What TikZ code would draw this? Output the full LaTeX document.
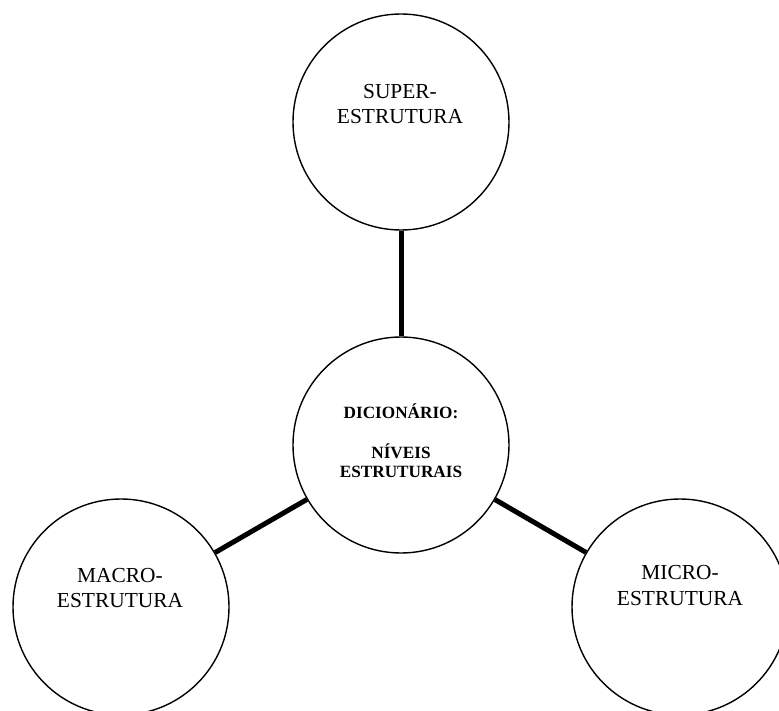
\documentclass[tikz,border=0pt]{standalone}
\usepackage{fontspec}
\setmainfont{Liberation Serif}
\begin{document}
\begin{tikzpicture}[x=1pt,y=-1pt,
  ring/.style={draw=black,circle,line width=1.4pt,minimum size=216pt,inner sep=0pt},
  conn/.style={draw=black,line width=5pt},
  lbl/.style={anchor=base,inner sep=0pt,font=\fontsize{21.4}{25}\selectfont},
  blbl/.style={anchor=base,inner sep=0pt,font=\fontsize{17.2}{19}\selectfont\bfseries}]
\useasboundingbox (0,0) rectangle (779,711);
\node[ring] (top) at (401,122) {};
\node[ring] (mid) at (401,445) {};
\node[ring] (lft) at (121,607) {};
\node[ring] (rgt) at (680,607) {};
\draw[conn] (mid) -- (top);
\draw[conn] (mid) -- (lft);
\draw[conn] (mid) -- (rgt);
\node[lbl] (t1) at (400,98.7) {SUPER-};
\node[lbl] (t2) at (400,124) {ESTRUTURA};
\node[blbl] (m1) at (401,418) {DICIONÁRIO:};
\node[blbl] (m2) at (401,458) {NÍVEIS};
\node[blbl] (m3) at (401,477) {ESTRUTURAIS};
\node[lbl] (l1) at (120,582) {MACRO-};
\node[lbl] (l2) at (120,607) {ESTRUTURA};
\node[lbl] (r1) at (680,579) {MICRO-};
\node[lbl] (r2) at (680,605) {ESTRUTURA};
\end{tikzpicture}
\end{document}
